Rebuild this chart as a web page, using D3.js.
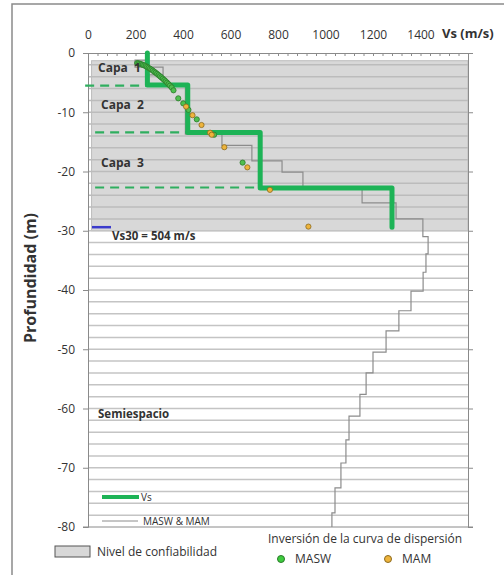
<!DOCTYPE html>
<html>
<head>
<meta charset="utf-8">
<script src="https://cdnjs.cloudflare.com/ajax/libs/d3/7.8.5/d3.min.js"></script>
<style>
body { margin: 0; background: #fff; }
text { font-family: "Open Sans", "Noto Sans", sans-serif; fill: #333; }
</style>
</head>
<body>
<svg class="chart"></svg>
<script>
// tick labels
var xTickValues = [0, 200, 400, 600, 800, 1000, 1200, 1400];
var yTickValues = [0, -10, -20, -30, -40, -50, -60, -70, -80];

// Vs profile (velocity per layer, bottom depth of layer)
var vsVel = [250, 420, 725, 1280];
var vsBottom = [5.4, 13.4, 22.8, 29.4];
var layerNames = ["Capa  1", "Capa  2", "Capa  3"];
var layerLines = [5.5, 13.4, 22.7];

// MASW & MAM inversion profile
var invVel = [250, 198, 316, 255, 410, 564, 690, 817, 905, 1154, 1297, 1410, 1432,
    1423, 1411, 1360, 1309, 1255, 1200, 1171, 1145, 1099, 1086, 1065, 1040, 1027];
var invBottom = [1.2, 2.4, 3.7, 5.4, 13.7, 15.6, 18.2, 20.1, 22.8, 25.3, 28.0, 31.0, 33.9,
    37.0, 40.2, 43.5, 46.9, 50.5, 54.0, 57.6, 61.3, 65.3, 69.2, 73.4, 77.6, 80];

// dispersion curve points
var maswVel = [207, 213, 219, 225, 231, 237, 243, 249, 255, 261, 267, 273, 279, 285, 291,
    297, 303, 309, 315, 321, 327, 333, 339, 345, 352, 360, 380, 401, 423, 458, 531, 651];
var maswDepth = [1.7, 1.75, 1.82, 1.9, 2.0, 2.1, 2.22, 2.35, 2.5, 2.65, 2.8, 2.97, 3.15, 3.33, 3.52,
    3.72, 3.92, 4.12, 4.33, 4.55, 4.77, 5.0, 5.25, 5.5, 5.8, 6.3, 7.65, 8.5, 9.6, 11.2, 13.8, 18.5];
var mamVel = [413, 440, 478, 514, 521, 574, 671, 766, 928];
var mamDepth = [9.05, 10.5, 12.15, 13.45, 13.8, 15.9, 19.3, 23.1, 29.3];

var confDepth = [1.3, 30];
var vs30 = 504;

function show() {
    'use strict';
    var width = 504, height = 575;

    var svg = d3.select(".chart")
        .attr("width", width)
        .attr("height", height);

    var x = d3.scaleLinear().domain([0, 1600]).range([88, 468]);
    var y = d3.scaleLinear().domain([0, -80]).range([53, 527]);

    // outer frame
    svg.append("rect").attr("x", 12).attr("y", 4).attr("width", 520).attr("height", 600)
        .attr("fill", "none").attr("stroke", "#8a8a8a").attr("stroke-width", 1.5);

    // confidence zone
    svg.append("rect")
        .attr("x", x(15)).attr("y", y(-confDepth[0]))
        .attr("width", x(1600) - x(15)).attr("height", y(-confDepth[1]) - y(-confDepth[0]))
        .attr("fill", "#d8d8d8").attr("stroke", "#bdbdbd");

    // horizontal grid every 2 m
    svg.append("g").selectAll("line").data(d3.range(2, 80, 2)).enter()
        .append("line")
        .attr("x1", x(0)).attr("x2", x(1600))
        .attr("y1", function(d) { return y(-d); })
        .attr("y2", function(d) { return y(-d); })
        .attr("stroke", function(d) { return d < 30 ? "#bcbcbc" : "#c4c4c4"; })
        .attr("stroke-width", 1.5);

    // axes
    var plain = function(d) { return String(d); };
    svg.append("g").attr("transform", "translate(0,53)")
        .call(d3.axisTop(x).tickValues(xTickValues).tickSize(0).tickPadding(14).tickFormat(plain));
    svg.append("g").attr("transform", "translate(0,53)")
        .call(d3.axisTop(x).tickValues(d3.range(0, 1600, 40)).tickSize(-3).tickFormat(""));
    svg.append("g").attr("transform", "translate(88,0)")
        .call(d3.axisLeft(y).tickValues(yTickValues).tickSize(5).tickPadding(8).tickFormat(plain));
    svg.append("g").attr("transform", "translate(468,0)")
        .call(d3.axisRight(y).tickValues(yTickValues).tickSize(5).tickFormat(""));
    svg.append("line").attr("x1", 83).attr("x2", 473).attr("y1", y(-80)).attr("y2", y(-80))
        .attr("stroke", "#8a8a8a");
    svg.selectAll(".domain").attr("stroke", "#8a8a8a");
    svg.selectAll(".tick line").attr("stroke", "#8a8a8a");
    svg.selectAll(".tick text").attr("font-size", 12)
        .attr("font-family", "'Open Sans', sans-serif").attr("fill", "#333");

    svg.append("text").attr("x", 442).attr("y", 38)
        .attr("font-size", 13).attr("font-weight", "bold").attr("fill", "#222")
        .text("Vs (m/s)");
    svg.append("text")
        .attr("transform", "translate(36,278) rotate(-90)")
        .attr("text-anchor", "middle")
        .attr("font-size", 16).attr("font-weight", "bold").attr("fill", "#222")
        .text("Profundidad (m)");

    // inversion step profile
    var invPts = [[invVel[0], 0]];
    invVel.forEach(function(v, i) {
        if (i > 0) invPts.push([v, invBottom[i - 1]]);
        invPts.push([v, invBottom[i]]);
    });
    var line = d3.line()
        .x(function(d) { return x(d[0]); })
        .y(function(d) { return y(-d[1]); });
    svg.append("path").attr("d", line(invPts))
        .attr("fill", "none").attr("stroke", "#8c8c8c").attr("stroke-width", 1.2);

    // layer boundaries
    svg.append("g").selectAll("line").data(layerLines).enter()
        .append("line")
        .attr("x1", function(d, i) { return i === 0 ? x(-12) : x(30); })
        .attr("x2", function(d, i) { return x(vsVel[i]); })
        .attr("y1", function(d) { return y(-d); })
        .attr("y2", function(d) { return y(-d); })
        .attr("stroke", "#2fae5f").attr("stroke-width", 2.2)
        .attr("stroke-dasharray", "9,6");

    // Vs profile
    var vsPts = [[vsVel[0], 0]];
    vsVel.forEach(function(v, i) {
        if (i > 0) vsPts.push([v, vsBottom[i - 1]]);
        vsPts.push([v, vsBottom[i]]);
    });
    svg.append("path").attr("d", line(vsPts))
        .attr("fill", "none").attr("stroke", "#1db356").attr("stroke-width", 5)
        .attr("stroke-linecap", "round").attr("stroke-linejoin", "round");

    // dispersion points
    svg.append("g").selectAll("circle").data(maswVel).enter()
        .append("circle")
        .attr("cx", function(d) { return x(d); })
        .attr("cy", function(d, i) { return y(-maswDepth[i]); })
        .attr("r", 2.6)
        .attr("fill", "#4fbf4f").attr("stroke", "#2a7a2a").attr("stroke-width", 0.8);
    svg.append("g").selectAll("circle").data(mamVel).enter()
        .append("circle")
        .attr("cx", function(d) { return x(d); })
        .attr("cy", function(d, i) { return y(-mamDepth[i]); })
        .attr("r", 2.6)
        .attr("fill", "#eeb43c").attr("stroke", "#8a6a20").attr("stroke-width", 0.8);

    // labels
    var labelY = [2.6, 8.7, 18.6];
    svg.append("g").selectAll("text").data(layerNames).enter()
        .append("text")
        .attr("x", function(d, i) { return i === 0 ? 98 : 101; })
        .attr("y", function(d, i) { return y(-labelY[i]) + 4; })
        .attr("font-size", 12).attr("font-weight", "bold").attr("fill", "#222")
        .style("white-space", "pre")
        .text(function(d) { return d; });

    svg.append("line").attr("x1", 92).attr("x2", 111)
        .attr("y1", y(-29.4)).attr("y2", y(-29.4))
        .attr("stroke", "#3b3bcc").attr("stroke-width", 2.5);
    svg.append("text").attr("x", 112).attr("y", 240)
        .attr("font-size", 11.5).attr("font-weight", "bold").attr("fill", "#222")
        .text("Vs30 = " + vs30 + " m/s");
    svg.append("text").attr("x", 98).attr("y", 418)
        .attr("font-size", 11.5).attr("font-weight", "bold").attr("fill", "#222")
        .text("Semiespacio");

    // legend inside plot
    svg.append("line").attr("x1", 102).attr("x2", 139).attr("y1", 497).attr("y2", 497)
        .attr("stroke", "#1db356").attr("stroke-width", 4);
    svg.append("text").attr("x", 141).attr("y", 501).attr("font-size", 10).attr("fill", "#555")
        .text("Vs");
    svg.append("line").attr("x1", 102).attr("x2", 138).attr("y1", 521).attr("y2", 521)
        .attr("stroke", "#8c8c8c").attr("stroke-width", 1);
    svg.append("text").attr("x", 143).attr("y", 525).attr("font-size", 10).attr("fill", "#555")
        .text("MASW & MAM");

    // legend below plot
    svg.append("rect").attr("x", 55).attr("y", 546).attr("width", 35).attr("height", 11)
        .attr("fill", "#d8d8d8").attr("stroke", "#555");
    svg.append("text").attr("x", 97).attr("y", 556).attr("font-size", 12).attr("fill", "#333")
        .text("Nivel de confiabilidad");
    svg.append("text").attr("x", 268).attr("y", 543).attr("font-size", 12).attr("fill", "#333")
        .text("Inversión de la curva de dispersión");
    svg.append("circle").attr("cx", 281).attr("cy", 559).attr("r", 3.5)
        .attr("fill", "#3fcc3f").attr("stroke", "#2a7a2a");
    svg.append("text").attr("x", 295).attr("y", 563).attr("font-size", 12).attr("fill", "#333")
        .text("MASW");
    svg.append("circle").attr("cx", 388).attr("cy", 559).attr("r", 3.5)
        .attr("fill", "#eeb43c").attr("stroke", "#8a6a20");
    svg.append("text").attr("x", 402).attr("y", 563).attr("font-size", 12).attr("fill", "#333")
        .text("MAM");
}
show();
</script>
</body>
</html>
